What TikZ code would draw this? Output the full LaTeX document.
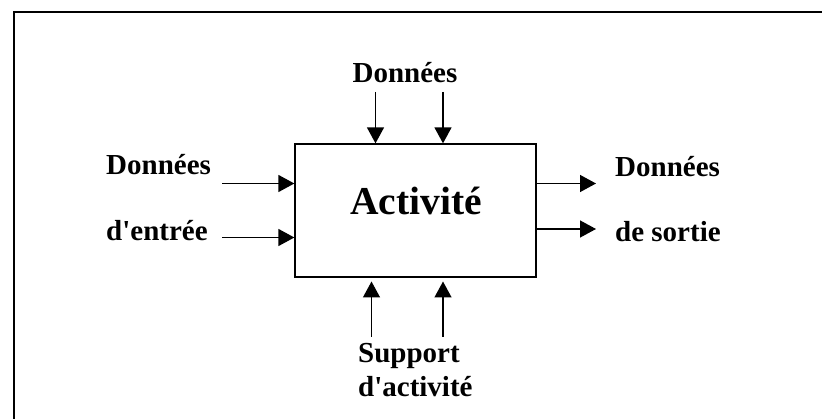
\documentclass[tikz,border=0pt]{standalone}
\usepackage{fontspec}
\setmainfont{Liberation Serif}[Ligatures=TeXOff]
\usetikzlibrary{arrows.meta}
\begin{document}
\begin{tikzpicture}[x=1pt,y=-1pt,
  lbl/.style={font=\fontsize{29}{32}\selectfont\bfseries, inner sep=0pt},
  big/.style={font=\fontsize{39.5}{44}\selectfont\bfseries, inner sep=0pt},
  arr/.style={line width=1.4pt, -{Triangle[length=16pt,width=17pt]}},
  frame/.style={line width=2pt}]
\useasboundingbox (0,0) rectangle (822,419);
% page frame (top and left edges)
\coordinate (fr) at (13.5,12);
\draw[frame] (13.5,419) -- (fr) -- (822,12);
% activity box
\node[draw, line width=1.3pt, minimum width=241pt, minimum height=133pt, inner sep=0pt] (act) at (415.5,210.5) {};
\node[big, anchor=base] (actlbl) at (416,215) {Activité};
% controls on top
\node[lbl, anchor=base] (top) at (405,83) {Données};
\coordinate (t1) at (375.5,92);
\coordinate (t2) at (443,92);
\draw[arr] (t1) -- (t1 |- act.north);
\draw[arr] (t2) -- (t2 |- act.north);
% inputs on the left
\node[lbl, anchor=base west] (in1) at (106,175) {Données};
\node[lbl, anchor=base west] (in2) at (106,241) {d'entrée};
\coordinate (l1) at (222,183.5);
\coordinate (l2) at (222,237.5);
\draw[arr] (l1) -- (l1 -| act.west);
\draw[arr] (l2) -- (l2 -| act.west);
% outputs on the right
\node[lbl, anchor=base west] (out1) at (615,176.5) {Données};
\node[lbl, anchor=base west] (out2) at (615,241.5) {de sortie};
\coordinate (r1) at (596,183.5);
\coordinate (r2) at (596,229);
\draw[arr] (r1 -| act.east) -- (r1);
\draw[arr] (r2 -| act.east) -- (r2);
% mechanisms below
\node[lbl, anchor=base west] (sup1) at (358,363) {Support};
\node[lbl, anchor=base west] (sup2) at (358,397) {d'activité};
\coordinate (b1) at (371.5,337);
\coordinate (b2) at (443,337);
\coordinate (b1t) at (371.5,281.5);
\coordinate (b2t) at (443,281.5);
\draw[arr] (b1) -- (b1t);
\draw[arr] (b2) -- (b2t);
\end{tikzpicture}
\end{document}
